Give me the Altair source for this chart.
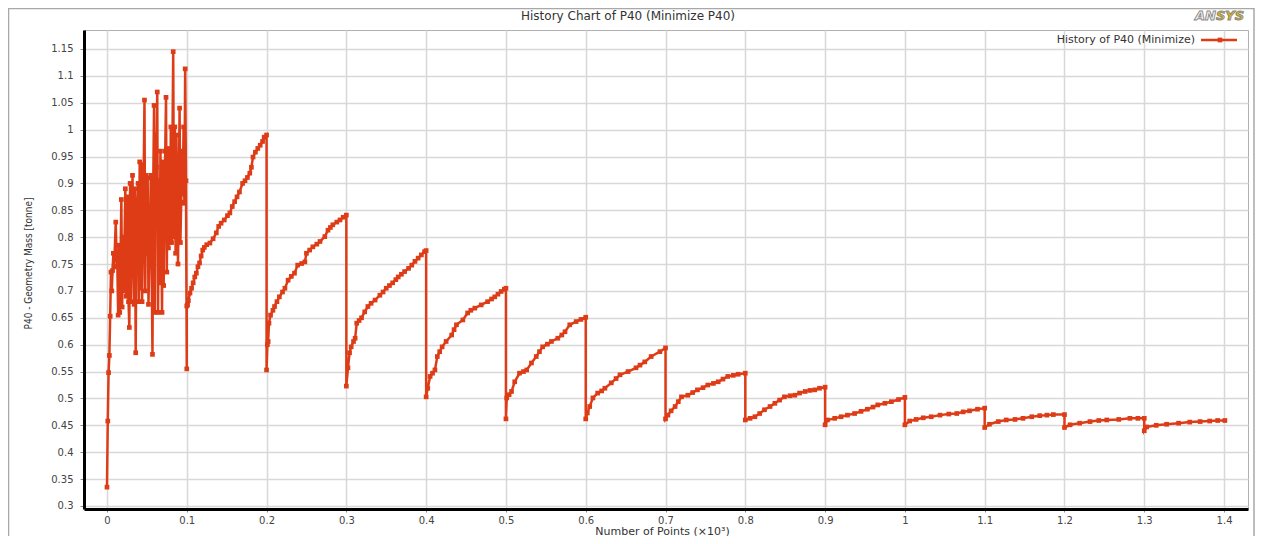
import altair as alt
import pandas as pd

# ---------------- data (x in thousands of points, y in tonne) ----------------
SEG00_X = [0.000, 0.001, 0.002, 0.003, 0.004, 0.005, 0.006, 0.007, 0.008, 0.009, 0.011, 0.012, 0.013,
           0.014, 0.015, 0.016, 0.017, 0.018, 0.019, 0.020, 0.021, 0.023, 0.024, 0.025, 0.026, 0.027,
           0.028, 0.029, 0.030, 0.032, 0.033, 0.034, 0.035, 0.036, 0.037, 0.039, 0.040, 0.041, 0.042,
           0.043, 0.044, 0.045, 0.047, 0.048, 0.049, 0.050, 0.051, 0.052, 0.054, 0.055, 0.057, 0.058,
           0.059, 0.060, 0.061, 0.062, 0.063, 0.064, 0.065, 0.066, 0.067, 0.069, 0.070, 0.071, 0.073,
           0.074, 0.075, 0.076, 0.077, 0.078, 0.079, 0.080, 0.081, 0.083, 0.084, 0.085, 0.086, 0.087,
           0.089, 0.090, 0.091, 0.092, 0.093, 0.094, 0.095, 0.096, 0.097, 0.098, 0.099, 0.100]
SEG00_Y = [0.335, 0.458, 0.548, 0.580, 0.653, 0.735, 0.700, 0.738, 0.770, 0.745, 0.828, 0.760, 0.745,
           0.655, 0.785, 0.660, 0.760, 0.870, 0.670, 0.800, 0.700, 0.890, 0.690, 0.750, 0.875, 0.680,
           0.632, 0.900, 0.680, 0.915, 0.780, 0.675, 0.890, 0.585, 0.830, 0.900, 0.680, 0.940, 0.705,
           0.935, 0.680, 0.780, 1.055, 0.700, 0.915, 0.770, 0.910, 0.675, 0.830, 0.915, 0.582, 0.900,
           1.045, 0.660, 0.990, 0.930, 1.070, 0.660, 0.905, 0.715, 0.960, 0.660, 0.940, 0.710, 0.960,
           1.060, 0.735, 0.965, 0.780, 0.960, 0.790, 1.005, 0.790, 1.145, 0.800, 1.005, 0.770, 0.990,
           0.750, 0.880, 1.040, 0.790, 0.865, 0.960, 0.880, 1.005, 0.863, 1.113, 0.905, 0.555]

SEG01_X = [0.100, 0.101, 0.102, 0.104, 0.106, 0.108, 0.110, 0.112, 0.114, 0.116, 0.118, 0.120, 0.122,
           0.125, 0.129, 0.133, 0.137, 0.140, 0.143, 0.147, 0.151, 0.154, 0.157, 0.160, 0.163, 0.166,
           0.170, 0.173, 0.176, 0.179, 0.181, 0.183, 0.186, 0.189, 0.192, 0.195, 0.197, 0.200]
SEG01_Y = [0.672, 0.674, 0.682, 0.696, 0.705, 0.715, 0.726, 0.733, 0.745, 0.752, 0.765, 0.776, 0.781,
           0.786, 0.789, 0.797, 0.808, 0.820, 0.826, 0.832, 0.840, 0.845, 0.857, 0.866, 0.875, 0.884,
           0.900, 0.905, 0.911, 0.919, 0.930, 0.949, 0.958, 0.965, 0.971, 0.978, 0.986, 0.990]

SEG02_X = [0.200, 0.201, 0.202, 0.203, 0.205, 0.208, 0.210, 0.213, 0.216, 0.220, 0.223, 0.227, 0.231,
           0.235, 0.239, 0.244, 0.248, 0.250, 0.254, 0.258, 0.263, 0.267, 0.273, 0.277, 0.280, 0.283,
           0.288, 0.292, 0.296, 0.300]
SEG02_Y = [0.553, 0.600, 0.606, 0.640, 0.655, 0.664, 0.671, 0.680, 0.689, 0.698, 0.705, 0.720, 0.727,
           0.733, 0.748, 0.751, 0.754, 0.770, 0.776, 0.782, 0.787, 0.792, 0.801, 0.813, 0.818, 0.823,
           0.828, 0.832, 0.837, 0.841]

SEG03_X = [0.300, 0.302, 0.304, 0.306, 0.309, 0.311, 0.313, 0.316, 0.319, 0.323, 0.327, 0.331, 0.336,
           0.342, 0.346, 0.350, 0.354, 0.358, 0.362, 0.365, 0.369, 0.373, 0.378, 0.382, 0.386, 0.390,
           0.394, 0.398, 0.400]
SEG03_Y = [0.523, 0.557, 0.585, 0.596, 0.606, 0.612, 0.640, 0.645, 0.650, 0.661, 0.671, 0.677, 0.683,
           0.692, 0.698, 0.705, 0.710, 0.715, 0.721, 0.726, 0.731, 0.736, 0.742, 0.748, 0.755, 0.761,
           0.767, 0.773, 0.775]

SEG04_X = [0.400, 0.402, 0.405, 0.408, 0.411, 0.414, 0.417, 0.420, 0.425, 0.432, 0.435, 0.438, 0.446,
           0.452, 0.456, 0.461, 0.469, 0.477, 0.482, 0.486, 0.490, 0.494, 0.498, 0.500]
SEG04_Y = [0.503, 0.519, 0.541, 0.547, 0.553, 0.578, 0.587, 0.596, 0.606, 0.618, 0.628, 0.637, 0.646,
           0.659, 0.664, 0.668, 0.674, 0.680, 0.685, 0.689, 0.694, 0.699, 0.703, 0.705]

SEG05_X = [0.500, 0.501, 0.504, 0.507, 0.511, 0.517, 0.522, 0.526, 0.532, 0.538, 0.542, 0.546, 0.552,
           0.557, 0.565, 0.570, 0.574, 0.580, 0.588, 0.594, 0.600]
SEG05_Y = [0.462, 0.501, 0.507, 0.513, 0.531, 0.547, 0.550, 0.553, 0.566, 0.578, 0.587, 0.596, 0.601,
           0.606, 0.612, 0.618, 0.624, 0.637, 0.643, 0.647, 0.651]

SEG06_X = [0.600, 0.602, 0.605, 0.609, 0.615, 0.620, 0.624, 0.632, 0.638, 0.643, 0.653, 0.663, 0.668,
           0.674, 0.682, 0.693, 0.700]
SEG06_Y = [0.462, 0.473, 0.485, 0.501, 0.510, 0.514, 0.519, 0.529, 0.537, 0.544, 0.550, 0.557, 0.562,
           0.568, 0.578, 0.587, 0.594]

SEG07_X = [0.700, 0.703, 0.707, 0.712, 0.716, 0.720, 0.728, 0.734, 0.740, 0.747, 0.753, 0.760, 0.766,
           0.772, 0.778, 0.785, 0.791, 0.800]
SEG07_Y = [0.462, 0.469, 0.477, 0.485, 0.494, 0.503, 0.506, 0.511, 0.516, 0.520, 0.525, 0.528, 0.531,
           0.536, 0.541, 0.543, 0.545, 0.547]

SEG08_X = [0.800, 0.806, 0.812, 0.818, 0.824, 0.831, 0.837, 0.843, 0.849, 0.856, 0.862, 0.868, 0.875,
           0.881, 0.887, 0.893, 0.900]
SEG08_Y = [0.460, 0.463, 0.466, 0.472, 0.479, 0.485, 0.491, 0.497, 0.503, 0.505, 0.506, 0.510, 0.513,
           0.515, 0.516, 0.519, 0.521]

SEG09_X = [0.900, 0.903, 0.912, 0.920, 0.928, 0.937, 0.945, 0.953, 0.960, 0.966, 0.975, 0.983, 0.992, 1.000]
SEG09_Y = [0.451, 0.460, 0.463, 0.466, 0.469, 0.472, 0.476, 0.480, 0.484, 0.488, 0.491, 0.494, 0.498, 0.502]

SEG10_X = [1.000, 1.006, 1.014, 1.023, 1.033, 1.044, 1.055, 1.065, 1.073, 1.081, 1.091, 1.100]
SEG10_Y = [0.451, 0.458, 0.461, 0.464, 0.466, 0.469, 0.471, 0.472, 0.475, 0.477, 0.480, 0.482]

SEG11_X = [1.100, 1.106, 1.117, 1.127, 1.138, 1.148, 1.159, 1.169, 1.178, 1.186, 1.200]
SEG11_Y = [0.446, 0.452, 0.457, 0.460, 0.461, 0.463, 0.466, 0.468, 0.469, 0.470, 0.470]

SEG12_X = [1.200, 1.207, 1.219, 1.232, 1.243, 1.253, 1.268, 1.282, 1.292, 1.300]
SEG12_Y = [0.446, 0.451, 0.454, 0.457, 0.459, 0.460, 0.461, 0.463, 0.463, 0.463]

SEG13_X = [1.300, 1.303, 1.315, 1.328, 1.343, 1.357, 1.370, 1.382, 1.392, 1.401]
SEG13_Y = [0.440, 0.447, 0.450, 0.452, 0.454, 0.456, 0.457, 0.458, 0.459, 0.459]

X_TICKS = [0, 0.1, 0.2, 0.3, 0.4, 0.5, 0.6, 0.7, 0.8, 0.9, 1, 1.1, 1.2, 1.3, 1.4]
Y_TICKS = [0.3, 0.35, 0.4, 0.45, 0.5, 0.55, 0.6, 0.65, 0.7, 0.75, 0.8, 0.85, 0.9, 0.95,
           1, 1.05, 1.1, 1.15]

TITLE = "History Chart of P40 (Minimize P40)"
X_TITLE = "Number of Points  (×10³)"
Y_TITLE = "P40 - Geometry Mass  [tonne]"
LEGEND_LABEL = "History of P40 (Minimize)"

# ---------------- build table ----------------
segments = [(SEG00_X, SEG00_Y), (SEG01_X, SEG01_Y), (SEG02_X, SEG02_Y), (SEG03_X, SEG03_Y),
            (SEG04_X, SEG04_Y), (SEG05_X, SEG05_Y), (SEG06_X, SEG06_Y), (SEG07_X, SEG07_Y),
            (SEG08_X, SEG08_Y), (SEG09_X, SEG09_Y), (SEG10_X, SEG10_Y), (SEG11_X, SEG11_Y),
            (SEG12_X, SEG12_Y), (SEG13_X, SEG13_Y)]
xs, ys = [], []
for sx, sy in segments:
    xs.extend(sx)
    ys.extend(sy)
df = pd.DataFrame({"x": xs, "y": ys, "order": range(len(xs))})

RED = "#dd3c17"
W, H = 1164, 479
FONT = "DejaVu Sans"
COND = "DejaVu Sans Condensed, DejaVu Sans"

x_axis = alt.Axis(values=X_TICKS, format="~g", domainColor="black", domainWidth=3,
                  tickColor="#888", tickSize=3, labelPadding=3,
                  labelFont=FONT, labelFontSize=10, labelColor="#444",
                  grid=True, gridColor="#d8d8d8", gridWidth=1.5,
                  title=X_TITLE, titleFont=FONT, titleFontSize=11, titleFontWeight="normal",
                  titleColor="#333", titleX=578, titleY=22, titleAlign="center",
                  titleBaseline="middle")
y_axis = alt.Axis(values=Y_TICKS, format="~g", domainColor="black", domainWidth=3,
                  tickColor="#888", tickSize=4, labelPadding=7,
                  labelFont=FONT, labelFontSize=10, labelColor="#444",
                  grid=True, gridColor="#d8d8d8", gridWidth=1.5,
                  title=Y_TITLE, titleFont=COND, titleFontSize=10,
                  titleFontWeight="normal", titleColor="#333", titleAngle=270,
                  titleX=-56, titleY=233, titleAlign="center", titleBaseline="middle")

line = alt.Chart(df).mark_line(
    color=RED, strokeWidth=2.5,
    point=alt.OverlayMarkDef(shape="square", size=22, filled=True, color=RED, opacity=1),
).encode(
    x=alt.X("x:Q", scale=alt.Scale(domain=[-0.0288, 1.430], nice=False, zero=False), axis=x_axis),
    y=alt.Y("y:Q", scale=alt.Scale(domain=[0.2944, 1.1853], nice=False, zero=False), axis=y_axis),
    order="order:Q",
)

# legend (inside plot, top right)
leg_df = pd.DataFrame({"t": [LEGEND_LABEL]})
leg_text = alt.Chart(leg_df).mark_text(align="right", baseline="middle", font=FONT, fontSize=11,
                                       color="#333").encode(
    x=alt.value(1111), y=alt.value(10), text="t:N")
leg_line = alt.Chart(leg_df).mark_rule(color=RED, strokeWidth=2.5).encode(
    x=alt.value(1117), x2=alt.value(1153), y=alt.value(10))
leg_pt = alt.Chart(leg_df).mark_point(shape="square", size=22, filled=True, color=RED,
                                      opacity=1).encode(x=alt.value(1136), y=alt.value(10))

# chart title, outer frame and logo
title_df = pd.DataFrame({"t": [TITLE]})
title = alt.Chart(title_df).mark_text(align="center", baseline="middle", font=FONT, fontSize=12,
                                      color="#333").encode(
    x=alt.value(544), y=alt.value(-14), text="t:N")
frame = alt.Chart(leg_df).mark_rect(fill="transparent", stroke="#a8a8a8", strokeWidth=1.5).encode(
    x=alt.value(-75.5), x2=alt.value(1170), y=alt.value(-21.5), y2=alt.value(600))
logo_df = pd.DataFrame({"a": ["AN"], "b": ["SYS"]})
logo_a = alt.Chart(logo_df).mark_text(align="right", baseline="alphabetic", font=FONT, fontSize=13,
                                      fontWeight="bold", fontStyle="italic", fill="white",
                                      stroke="#8a8a8a", strokeWidth=1).encode(
    x=alt.value(1132), y=alt.value(-10), text="a:N")
logo_b = alt.Chart(logo_df).mark_text(align="left", baseline="alphabetic", font=FONT, fontSize=13,
                                      fontWeight="bold", fontStyle="italic", fill="#e6b800",
                                      stroke="#8a8a8a", strokeWidth=1).encode(
    x=alt.value(1132), y=alt.value(-10), text="b:N")

chart = alt.layer(frame, line, leg_text, leg_line, leg_pt, title, logo_a, logo_b).properties(
    width=W, height=H,
    autosize=alt.AutoSizeParams(type="none"),
    padding={"left": 76, "top": 22, "right": 7, "bottom": 27},
).configure_view(stroke="#b0b0b0", strokeWidth=1)

chart.save("out.html", embed_options={"renderer": "svg", "actions": False})
